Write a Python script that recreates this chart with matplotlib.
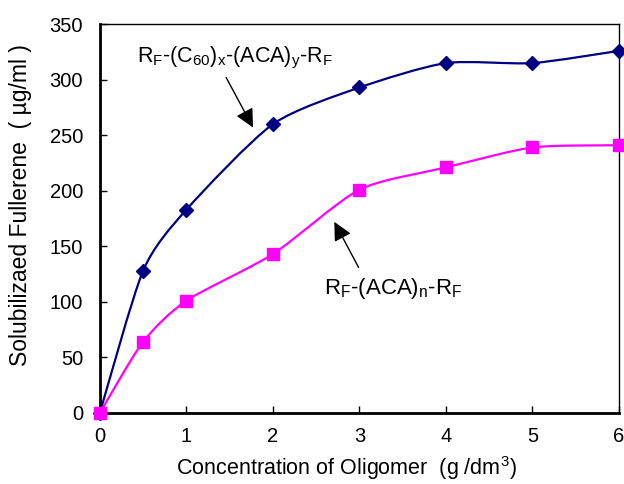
import numpy as np
import matplotlib
matplotlib.use("Agg")
import matplotlib.pyplot as plt
from matplotlib.path import Path
from matplotlib.patches import PathPatch

plt.rcParams['font.family'] = ['Liberation Sans', 'DejaVu Sans']
plt.rcParams['mathtext.default'] = 'regular'

# data
conc = [0, 0.5, 1, 2, 3, 4, 5, 6]
fullerene_c60 = [0, 128, 183, 260, 293, 315, 315, 326]
fullerene_aca = [0, 64, 101, 143, 201, 221, 239, 241]

label_c60 = r'R$_F$-(C$_{60}$)$_x$-(ACA)$_y$-R$_F$'
label_aca = r'R$_F$-(ACA)$_n$-R$_F$'


def smooth_path(x, y, k=0.12):
    # Excel-style smoothed line: cubic Bezier segments (Catmull-Rom tangents)
    x = np.asarray(x, float)
    y = np.asarray(y, float)
    verts = [(x[0], y[0])]
    codes = [Path.MOVETO]
    n = len(x)
    for i in range(n - 1):
        i0 = max(i - 1, 0)
        i3 = min(i + 2, n - 1)
        c1 = (x[i] + (x[i + 1] - x[i0]) * k, y[i] + (y[i + 1] - y[i0]) * k)
        c2 = (x[i + 1] - (x[i3] - x[i]) * k, y[i + 1] - (y[i3] - y[i]) * k)
        verts += [c1, c2, (x[i + 1], y[i + 1])]
        codes += [Path.CURVE4] * 3
    return Path(verts, codes)


fig = plt.figure(figsize=(6.24, 4.84), dpi=100)
ax = fig.add_axes([0.160, 0.147, 0.832, 0.803])

ax.add_patch(PathPatch(smooth_path(conc, fullerene_c60), fill=False,
                       edgecolor='#000080', lw=1.6, zorder=2))
ax.add_patch(PathPatch(smooth_path(conc, fullerene_aca), fill=False,
                       edgecolor='#FF00FF', lw=1.6, zorder=2))
ax.plot(conc, fullerene_c60, linestyle='none', marker='D', ms=7.5,
        color='#000080', zorder=3, clip_on=False)
ax.plot(conc, fullerene_aca, linestyle='none', marker='s', ms=8.5,
        color='#FF00FF', zorder=3, clip_on=False)

ax.set_xlim(0, 6)
ax.set_ylim(0, 350)
ax.set_xticks(range(0, 7))
ax.set_yticks(range(0, 351, 50))
ax.tick_params(direction='in', length=5, width=1, labelsize=14.5)
ax.tick_params(axis='y', pad=12)
ax.tick_params(axis='x', pad=10)

for side in ['left', 'bottom']:
    ax.spines[side].set_linewidth(2)
for side in ['top', 'right']:
    ax.spines[side].set_linewidth(1)

ax.set_xlabel('Concentration of Oligomer  (g /dm$^3$)', fontsize=15.5)
ax.xaxis.set_label_coords(0.475, -0.105)
ax.set_ylabel('Solubilizaed Fullerene  ( µg/ml )', fontsize=16.5)
ax.yaxis.set_label_coords(-0.13, 0.535)

arrow = dict(arrowstyle='-|>', color='black', lw=1, mutation_scale=28,
             shrinkA=0, shrinkB=0)
ax.annotate(label_c60, xy=(1.77, 257), xytext=(0.43, 320), fontsize=15.5,
            va='center', ha='left')
ax.annotate('', xy=(1.77, 257), xytext=(1.46, 302), arrowprops=arrow)
ax.annotate(label_aca, xy=(3.39, 112), xytext=(3.39, 112), fontsize=16,
            va='center', ha='center')
ax.annotate('', xy=(2.71, 172), xytext=(2.99, 131), arrowprops=arrow)

fig.savefig('out.png', dpi=100)
